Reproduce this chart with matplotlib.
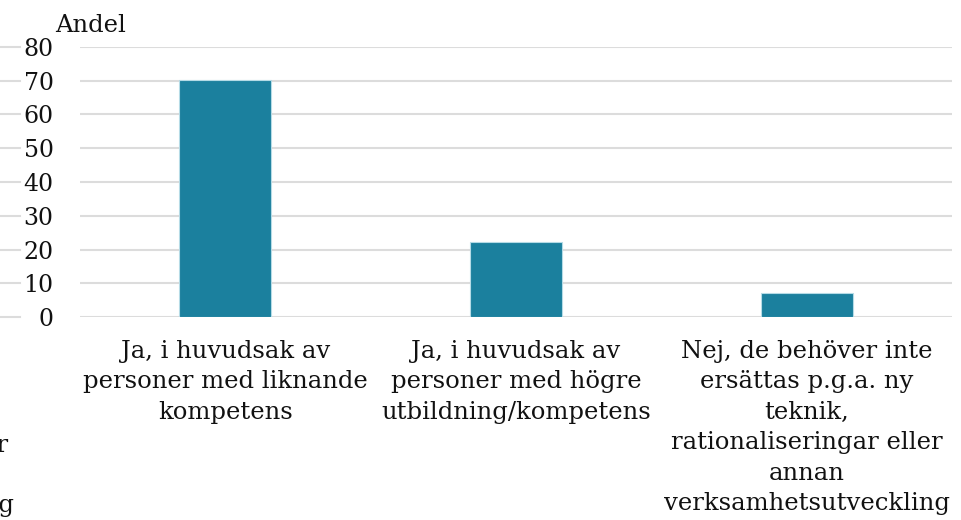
import matplotlib.pyplot as plt
import numpy as np

# data
kategorier = [
    "Ja, i huvudsak av\npersoner med liknande\nkompetens",
    "Ja, i huvudsak av\npersoner med högre\nutbildning/kompetens",
    "Nej, de behöver inte\nersättas p.g.a. ny\nteknik,\nrationaliseringar eller\nannan\nverksamhetsutveckling",
]
andel = [70.3, 22.4, 7.3]
yticks = [0, 10, 20, 30, 40, 50, 60, 70, 80]

plt.rcParams['font.family'] = 'DejaVu Serif'

W, H = 961, 520
fig = plt.figure(figsize=(W / 100, H / 100), dpi=100)
ax = fig.add_axes([80 / W, 1 - 317.3 / H, 872 / W, (317.3 - 46.7) / H])

x = np.arange(len(kategorier))
ax.bar(x, andel, width=0.316, color='#1b809e', edgecolor='#b5dbe6', linewidth=0.8, zorder=3)

ax.set_xlim(-0.5, 2.5)
ax.set_ylim(0, 80)
ax.set_yticks(yticks)
ax.yaxis.grid(True, color='#dcdcdc', linewidth=1.5, zorder=0)
ax.set_axisbelow(True)
for s in ax.spines.values():
    s.set_visible(False)

ax.set_xticks(x)
ax.set_xticklabels(kategorier, fontsize=17.5, linespacing=1.42, color='#111111')
ax.tick_params(axis='x', length=0, pad=16)
ax.tick_params(axis='y', length=0, pad=19, labelsize=17, labelcolor='#111111')

# korta gridlinjer till vänster om etiketterna
trans = ax.get_yaxis_transform()
for t in yticks:
    ax.plot([-80 / 872, -60 / 872], [t, t], transform=trans, color='#dcdcdc',
            linewidth=1.5, clip_on=False)

fig.text(55 / W, 1 - 32 / H, "Andel", fontsize=17.5, color='#111111', va='baseline')

# avskurna texter vid vänsterkanten
fig.text(9 / W, 1 - 452 / H, "eller", fontsize=17.5, ha='right', va='baseline', color='#111111')
fig.text(14 / W, 1 - 512 / H, "verksamhetsutveckling", fontsize=17.5, ha='right',
         va='baseline', color='#111111')

plt.savefig('out.png', dpi=100)
